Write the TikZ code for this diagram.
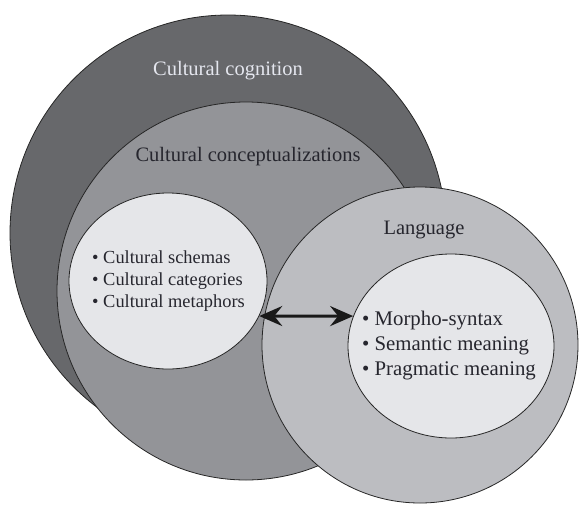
\documentclass[tikz,border=0pt]{standalone}
\usepackage{fontspec}
\setmainfont{Liberation Serif}
\usetikzlibrary{shapes.geometric, arrows.meta}

\definecolor{cogn}{RGB}{103,104,107}
\definecolor{conc}{RGB}{147,148,152}
\definecolor{lang}{RGB}{188,189,193}
\definecolor{inside}{RGB}{229,230,233}
\definecolor{ink}{RGB}{38,38,46}

\begin{document}
\begin{tikzpicture}[x=1pt, y=-1pt,
        blob/.style={draw=black!85, line width=0.8pt, ellipse, inner sep=0pt},
        lbl/.style={font=\fontsize{20.5}{24}\selectfont, text=ink},
        twoway/.style={line width=3pt, black!90,
            {Stealth[length=23pt, width=20pt, inset=8pt]}-{Stealth[length=23pt, width=20pt, inset=8pt]}}]
        \useasboundingbox (0,0) rectangle (579,504);
        % circles
        \node (cogn) [blob, fill=cogn, minimum size=436pt] at (228,233) {};
        \node (conc) [blob, fill=conc, minimum size=378pt] at (246,291) {};
        \node (cult) [blob, fill=inside, minimum width=198pt, minimum height=176pt] at (168,281) {};
        \node (lang) [blob, fill=lang, minimum size=316pt] at (420,345) {};
        \node (ling) [blob, fill=inside, minimum width=206pt, minimum height=184pt] at (451,346) {};
        % titles
        \node (cogn-t) [lbl, text={rgb,255:red,228;green,230;blue,238}] at (228,71) {Cultural cognition};
        \node (conc-t) [lbl] at (248,157) {Cultural conceptualizations};
        \node (lang-t) [lbl] at (424,230) {Language};
        % lists
        \node (cult-l) [lbl, font=\fontsize{18.4}{21.7}\selectfont, align=left, anchor=west, inner sep=0pt]
            at (92,281) {\textbullet\ Cultural schemas\\ \textbullet\ Cultural categories\\ \textbullet\ Cultural metaphors};
        \node (ling-l) [lbl, font=\fontsize{20.8}{25}\selectfont, align=left, anchor=west, inner sep=0pt]
            at (362,346) {\textbullet\ Morpho-syntax\\ \textbullet\ Semantic meaning\\ \textbullet\ Pragmatic meaning};
        %
        \draw[twoway] (cult.-21) -- (ling.163);
\end{tikzpicture}
\end{document}
